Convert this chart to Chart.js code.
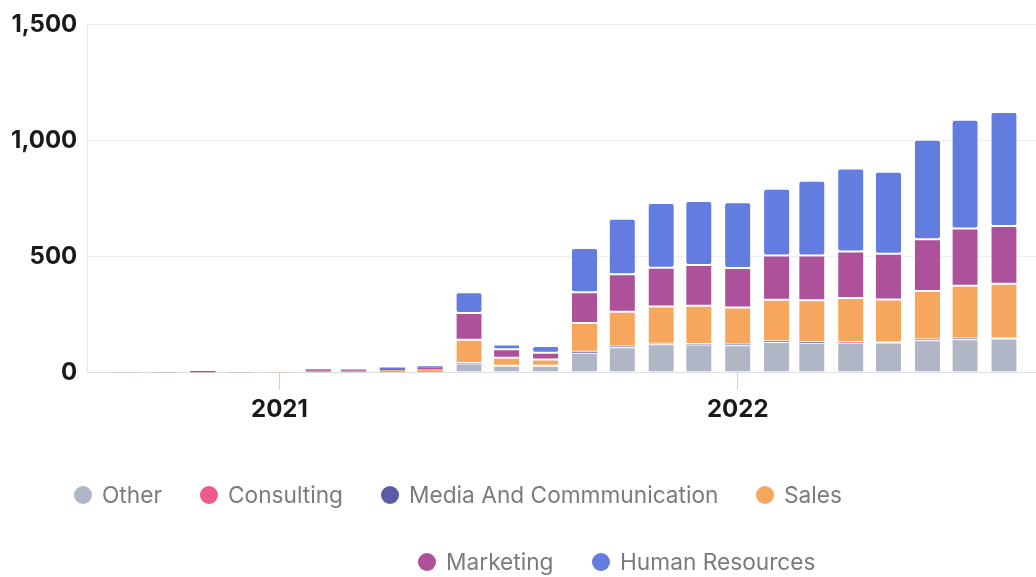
<!DOCTYPE html>
<html>
<head>
<meta charset="utf-8">
<script src="https://cdn.jsdelivr.net/npm/chart.js@4.4.1/dist/chart.umd.min.js"></script>
<style>
  html, body { margin: 0; padding: 0; background: #ffffff; overflow: hidden; }
  canvas { display: block; }
</style>
</head>
<body>
<canvas id="chart" width="1036" height="577"></canvas>
<script>
// Monthly headcount by department
const months = ['2020-09','2020-10','2020-11','2020-12','2021-01','2021-02','2021-03','2021-04',
                '2021-05','2021-06','2021-07','2021-08','2021-09','2021-10','2021-11','2021-12',
                '2022-01','2022-02','2022-03','2022-04','2022-05','2022-06','2022-07','2022-08'];

const other          = [1, 1, 1, 0, 0, 3, 3, 4, 5, 40, 30, 30, 86, 110, 122, 121, 118, 132, 129, 129, 130, 140, 144, 147];
const consulting     = [0, 0, 1, 0, 0, 0, 0, 0, 1, 0, 0, 0, 0, 0, 0, 0, 0, 0, 0, 3, 0, 0, 0, 0];
const media          = [0, 0, 0, 0, 0, 0, 0, 1, 1, 2, 0, 0, 4, 3, 3, 3, 3, 3, 3, 0, 0, 3, 3, 0];
const sales          = [1, 0, 1, 0, 1, 4, 4, 6, 8, 100, 34, 27, 124, 150, 160, 164, 160, 179, 180, 190, 185, 209, 228, 236];
const marketing      = [0, 1, 4, 1, 0, 4, 4, 5, 6, 115, 37, 29, 133, 161, 167, 176, 170, 191, 193, 200, 197, 223, 246, 249];
const humanResources = [0, 0, 0, 0, 0, 4, 3, 6, 7, 90, 20, 29, 190, 239, 279, 275, 283, 287, 322, 357, 353, 428, 468, 491];

const seriesNames  = ['Other', 'Consulting', 'Media And Commmunication', 'Sales', 'Marketing', 'Human Resources'];
const seriesValues = [other, consulting, media, sales, marketing, humanResources];
const seriesColors = ['#b0b6c6', '#ee5a89', '#5d5ba8', '#f6a65d', '#ad519b', '#637ce0'];

const yTicks = [0, 500, 1000, 1500];
const xTickYears = [2021, 2022];

const toTime = m => { const [y, mo] = m.split('-').map(Number); return Date.UTC(y, mo - 1, 1); };
const DAY = 86400000;
const xMin = Date.UTC(2020, 7, 1);
const xMax = Date.UTC(2022, 7, 26) + DAY / 2;

// Segments too thin to carry a white separator are drawn flat
const isThin = c => !c.raw || c.raw.y < 12;

const datasets = seriesNames.map((name, s) => ({
  label: name,
  data: months.map((m, i) => ({ x: toTime(m), y: seriesValues[s][i] })),
  backgroundColor: seriesColors[s],
  borderColor: '#ffffff',
  borderWidth: c => isThin(c) ? 0 : { top: 1, bottom: 1, left: 0, right: 0 },
  borderRadius: c => isThin(c) ? 0 : 3,
  borderSkipped: false
}));

// Legend in two rows below the axis
const legendLayout = [
  { cx: 83,  y: 495 },
  { cx: 209, y: 495 },
  { cx: 390, y: 495 },
  { cx: 765, y: 495 },
  { cx: 427, y: 562 },
  { cx: 601, y: 562 }
];

const dotLegend = {
  id: 'dotLegend',
  afterDraw(chart) {
    const ctx = chart.ctx;
    ctx.save();
    ctx.font = '22.7px Inter';
    ctx.textBaseline = 'middle';
    ctx.textAlign = 'left';
    chart.data.datasets.forEach((ds, i) => {
      const p = legendLayout[i];
      ctx.beginPath();
      ctx.arc(p.cx, p.y, 9, 0, Math.PI * 2);
      ctx.fillStyle = ds.backgroundColor;
      ctx.fill();
      ctx.fillStyle = '#7b7b7b';
      ctx.fillText(ds.label, p.cx + 19, p.y + 1);
    });
    ctx.restore();
  }
};

const tickFont = { family: 'Inter', size: 24, weight: 'bold' };

new Chart(document.getElementById('chart'), {
  type: 'bar',
  data: { datasets },
  plugins: [dotLegend],
  options: {
    responsive: false,
    animation: false,
    layout: { padding: { top: 23, right: 0, bottom: 137.3, left: 0 } },
    plugins: { legend: { display: false }, tooltip: { enabled: false } },
    scales: {
      x: {
        type: 'linear',
        stacked: true,
        offset: false,
        bounds: 'data',
        min: xMin,
        max: xMax,
        grid: { offset: false, drawOnChartArea: false, drawTicks: true, tickLength: 17, color: '#cfcfcf' },
        border: { color: '#dedede' },
        afterBuildTicks: s => { s.ticks = xTickYears.map(y => ({ value: Date.UTC(y, 0, 1) })); },
        afterFit: s => { s.height = 67; },
        ticks: {
          autoSkip: false, maxRotation: 0, padding: 6, color: '#1a1a1a', font: tickFont,
          callback: v => String(new Date(v).getUTCFullYear())
        }
      },
      y: {
        stacked: true,
        min: 0,
        max: 1500,
        afterBuildTicks: s => { s.ticks = yTicks.map(v => ({ value: v })); },
        afterFit: s => { s.width = 87.3; },
        grid: { color: '#efefef', drawTicks: false },
        border: { color: '#e9e9e9' },
        ticks: {
          padding: 10, color: '#1a1a1a', font: tickFont,
          callback: v => v.toLocaleString('en-US')
        }
      }
    }
  }
});
</script>
</body>
</html>
